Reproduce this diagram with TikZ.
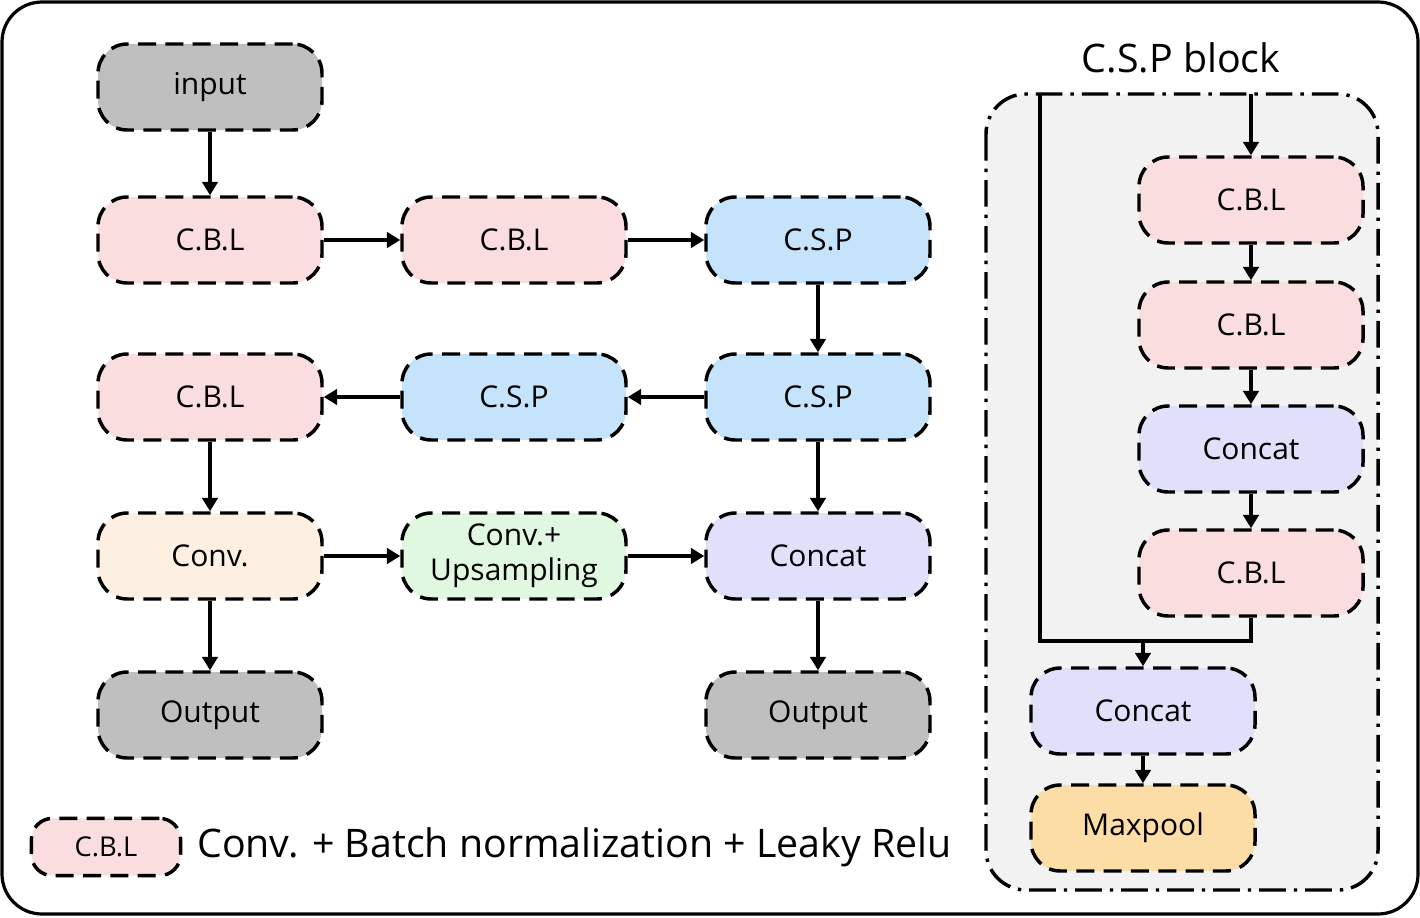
\documentclass[tikz,border=0pt]{standalone}
\usepackage{fontspec}
\setmainfont{Open Sans}
\usetikzlibrary{arrows.meta,positioning}
\definecolor{cgray}{HTML}{BFBFBF}
\definecolor{cpink}{HTML}{FADDDF}
\definecolor{cblue}{HTML}{C5E3FB}
\definecolor{ccream}{HTML}{FDF0E3}
\definecolor{cgreen}{HTML}{E0F8E0}
\definecolor{clav}{HTML}{E0E0FA}
\definecolor{corange}{HTML}{FCDDA5}
\definecolor{cblock}{HTML}{F2F2F2}
\tikzset{
  box/.style={draw=black, line width=2.6pt, dash pattern=on 13.5pt off 7pt,
    rounded corners=22pt, minimum width=168pt, minimum height=64.5pt,
    font=\fontsize{22.5pt}{26pt}\selectfont, align=center, inner sep=2pt},
  arr/.style={line width=2.6pt, -{Triangle[length=10pt,width=11.5pt]}},
  plain/.style={line width=2.6pt},
}
\begin{document}
\begin{tikzpicture}[x=0.75pt,y=-0.75pt]
\useasboundingbox (0,0) rectangle (1420,917);
\draw[line width=2.4pt, rounded corners=30pt] (2,2) rectangle (1418,914);
% CSP block
\node[font=\fontsize{29.5pt}{33pt}\selectfont] (csptitle) at (1181,58) {C.S.P block};
\draw[fill=cblock, line width=2.6pt, dash pattern=on 20pt off 6pt on 2.5pt off 6pt, rounded corners=30pt] (986,94) rectangle (1378,890);
% left nodes
\node[box, fill=cgray] (input) at (210,87) {input};
\node[box, fill=cpink] (cbl1) at (210,240) {C.B.L};
\node[box, fill=cpink] (cbl2) at (514,240) {C.B.L};
\node[box, fill=cblue] (csp1) at (818,240) {C.S.P};
\node[box, fill=cpink] (cbl3) at (210,397) {C.B.L};
\node[box, fill=cblue] (csp3) at (514,397) {C.S.P};
\node[box, fill=cblue] (csp2) at (818,397) {C.S.P};
\node[box, fill=ccream] (conv) at (210,556) {Conv.};
\node[box, fill=cgreen] (convup) at (514,556) {Conv.+\\Upsampling};
\node[box, fill=clav] (concat) at (818,556) {Concat};
\node[box, fill=cgray] (out1) at (210,715) {Output};
\node[box, fill=cgray] (out2) at (818,715) {Output};
% right nodes
\node[box, fill=cpink] (rcbl1) at (1251,200) {C.B.L};
\node[box, fill=cpink] (rcbl2) at (1251,325) {C.B.L};
\node[box, fill=clav] (rconcat1) at (1251,449) {Concat};
\node[box, fill=cpink] (rcbl3) at (1251,573) {C.B.L};
\node[box, fill=clav] (rconcat2) at (1143,711) {Concat};
\node[box, fill=corange] (maxpool) at (1143,828) {Maxpool};
% legend
\node[box, fill=cpink, minimum width=112pt, minimum height=43pt, rounded corners=16pt,
  font=\fontsize{20.5pt}{24pt}\selectfont] (legbox) at (106,847) {C.B.L};
\node[anchor=west, font=\fontsize{29.5pt}{33pt}\selectfont, inner sep=0pt] (legtext) at (197,847) {Conv. + Batch normalization + Leaky Relu};
% connectors left
\draw[arr] (input) -- (cbl1);
\draw[arr] (cbl1) -- (cbl2);
\draw[arr] (cbl2) -- (csp1);
\draw[arr] (csp1) -- (csp2);
\draw[arr] (csp2) -- (csp3);
\draw[arr] (csp3) -- (cbl3);
\draw[arr] (cbl3) -- (conv);
\draw[arr] (conv) -- (convup);
\draw[arr] (convup) -- (concat);
\draw[arr] (csp2) -- (concat);
\draw[arr] (concat) -- (out2);
\draw[arr] (conv) -- (out1);
% connectors right
\coordinate (bypass) at (1040,94);
\coordinate (inlet) at (1251,94);
\coordinate (join) at (1251,641);
\draw[arr] (inlet) -- (rcbl1);
\draw[arr] (rcbl1) -- (rcbl2);
\draw[arr] (rcbl2) -- (rconcat1);
\draw[arr] (rconcat1) -- (rcbl3);
\draw[plain] (bypass) |- (join) -- (rcbl3.south);
\draw[arr] (rconcat2.north |- join) -- (rconcat2);
\draw[arr] (rconcat2) -- (maxpool);
\end{tikzpicture}
\end{document}
